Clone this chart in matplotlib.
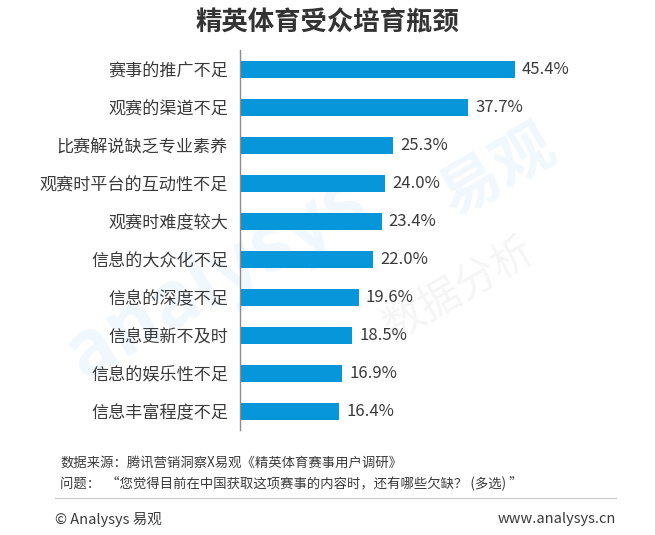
import matplotlib.pyplot as plt

plt.rcParams['font.family'] = ['Noto Sans CJK SC', 'DejaVu Sans']

# data
categories = [
    "赛事的推广不足", "观赛的渠道不足", "比赛解说缺乏专业素养", "观赛时平台的互动性不足",
    "观赛时难度较大", "信息的大众化不足", "信息的深度不足", "信息更新不及时",
    "信息的娱乐性不足", "信息丰富程度不足",
]
values = [45.4, 37.7, 25.3, 24.0, 23.4, 22.0, 19.6, 18.5, 16.9, 16.4]

title = "精英体育受众培育瓶颈"
source_note = "数据来源：腾讯营销洞察X易观《精英体育赛事用户调研》"
question_note = "问题：  “您觉得目前在中国获取这项赛事的内容时，还有哪些欠缺？ (多选) ”"

BAR_COLOR = "#0896DB"
TEXT_COLOR = "#3a3a3a"

fig = plt.figure(figsize=(6.55, 5.35), dpi=100)
fig.patch.set_facecolor("white")

# faint watermark behind the chart
fig.text(0.33, 0.48, "analysys", fontsize=56, color="#f1f8fd", rotation=30,
         ha="center", va="center", fontweight="bold", zorder=-1)
fig.text(0.76, 0.68, "易观", fontsize=44, color="#f1f8fd", rotation=30,
         ha="center", va="center", fontweight="bold", zorder=-1)
fig.text(0.70, 0.46, "数据分析", fontsize=30, color="#f5f5f5", rotation=30,
         ha="center", va="center", zorder=-1)

ax = fig.add_axes([0.3664, 0.196, 0.555, 0.71])
ax.patch.set_alpha(0)

ypos = list(range(len(categories)))
ax.barh(ypos, values, height=0.45, color=BAR_COLOR, zorder=2)

for y, v in zip(ypos, values):
    ax.annotate(f"{v:.1f}%", xy=(v, y), xytext=(5, 0), textcoords="offset points",
                ha="left", va="center", fontsize=12, color=TEXT_COLOR)

ax.set_yticks(ypos)
ax.set_yticklabels(categories, fontsize=12.3, color=TEXT_COLOR)
ax.set_ylim(len(categories) - 0.5, -0.5)
ax.set_xlim(0, 60)
ax.tick_params(axis="y", length=0, pad=8.5)
ax.set_xticks([])

for side in ["top", "right", "bottom"]:
    ax.spines[side].set_visible(False)
ax.spines["left"].set_color("#8c8c8c")
ax.spines["left"].set_linewidth(1.0)

fig.text(0.5, 0.957, title, ha="center", va="center", fontsize=19,
         fontweight="bold", color="#333333")

fig.text(0.092, 0.135, source_note, ha="left", va="center", fontsize=9.6, color=TEXT_COLOR)
fig.text(0.092, 0.097, question_note, ha="left", va="center", fontsize=9.6, color=TEXT_COLOR)

fig.add_artist(plt.Line2D([0.084, 0.94], [0.070, 0.070], color="#c8c8c8", linewidth=0.8))

fig.text(0.084, 0.029, "© Analysys 易观", ha="left", va="center", fontsize=10.5, color=TEXT_COLOR)
fig.text(0.94, 0.029, "www.analysys.cn", ha="right", va="center", fontsize=10.5, color=TEXT_COLOR)

fig.savefig("out.png", dpi=100, facecolor="white")
